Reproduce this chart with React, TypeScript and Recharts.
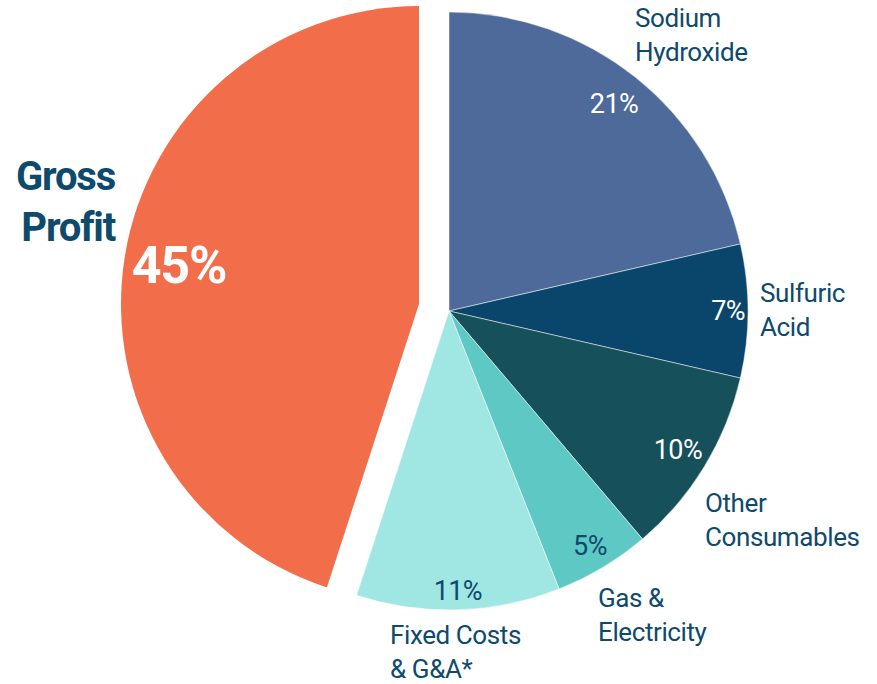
import { PieChart, Pie, Cell } from "recharts";

// slice order runs clockwise from 12 o'clock
const categories = [
  "Sodium\nHydroxide",
  "Sulfuric\nAcid",
  "Other\nConsumables",
  "Gas &\nElectricity",
  "Fixed Costs\n& G&A*",
  "Gross\nProfit",
];
const shares = [21.4, 7.2, 10.2, 5.2, 11.0, 45.0];

const COLORS = ["#4d6a9b", "#0a466b", "#16505a", "#5ec9c4", "#a0e6e2", "#f26d4a"];
const PCT_COLORS = ["#ffffff", "#ffffff", "#ffffff", "#0d4a6c", "#0d4a6c", "#ffffff"];
const TEXT = "#0d4a6c";
const FONT = "Roboto, 'Noto Sans', sans-serif";

// radius at which each % label sits
const PCT_R = [265, 279, 268, 274, 280, 243];
// name label anchor, relative to the slice's pie centre
const NAME_POS = [
  { dx: 186, dy: -293, anchor: "start" },
  { dx: 311, dy: -18, anchor: "start" },
  { dx: 256, dy: 192, anchor: "start" },
  { dx: 149, dy: 287, anchor: "start" },
  { dx: -59, dy: 324, anchor: "start" },
  { dx: -304, dy: -128, anchor: "end" },
];

const GROSS = 5;
const RAD = Math.PI / 180;

const data = categories.map((name, i) => ({ name, value: shares[i] }));

function renderLabel(props: any, only: (i: number) => boolean) {
  const { cx, cy, midAngle, index } = props;
  if (!only(index)) return null;
  const r = PCT_R[index];
  const x = cx + r * Math.cos(-midAngle * RAD);
  const y = cy + r * Math.sin(-midAngle * RAD);
  const big = index === GROSS;
  const pos = NAME_POS[index];
  const lines = categories[index].split("\n");
  const lineH = big ? 51 : 34;
  return (
    <g key={`lbl-${index}`}>
      <text
        x={x}
        y={y}
        textAnchor="middle"
        dominantBaseline="central"
        fill={PCT_COLORS[index]}
        fontFamily={FONT}
        fontSize={big ? 52 : 27}
        fontWeight={big ? 700 : 400}
        letterSpacing={big ? -1.2 : -0.6}
      >
        {`${Math.round(shares[index])}%`}
      </text>
      {lines.map((ln, k) => (
        <text
          key={k}
          x={cx + pos.dx}
          y={cy + pos.dy + k * lineH}
          textAnchor={pos.anchor as any}
          dominantBaseline="central"
          fill={TEXT}
          fontFamily={FONT}
          fontSize={big ? 40 : 26}
          fontWeight={big ? 700 : 400}
          letterSpacing={big ? -1.2 : -0.4}
        >
          {ln}
        </text>
      ))}
    </g>
  );
}

export default function App() {
  return (
    <div style={{ position: "fixed", left: 0, top: 0, width: 877, height: 684, background: "#fff" }}>
      <PieChart width={877} height={684} margin={{ top: 0, right: 0, bottom: 0, left: 0 }}>
        <Pie
          data={data}
          dataKey="value"
          cx={449}
          cy={311}
          outerRadius={299}
          startAngle={90}
          endAngle={-270}
          stroke="#ffffff"
          strokeWidth={0.5}
          labelLine={false}
          label={(p: any) => renderLabel(p, (i) => i !== GROSS)}
          isAnimationActive={false}
        >
          {data.map((d, i) => (
            <Cell key={d.name} fill={i === GROSS ? "none" : COLORS[i]} stroke={i === GROSS ? "none" : "#ffffff"} />
          ))}
        </Pie>
        {/* exploded gross profit slice */}
        <Pie
          data={data}
          dataKey="value"
          cx={419}
          cy={304}
          outerRadius={298}
          startAngle={90}
          endAngle={-270}
          stroke="none"
          labelLine={false}
          label={(p: any) => renderLabel(p, (i) => i === GROSS)}
          isAnimationActive={false}
        >
          {data.map((d, i) => (
            <Cell key={d.name} fill={i === GROSS ? COLORS[i] : "none"} />
          ))}
        </Pie>
      </PieChart>
    </div>
  );
}
